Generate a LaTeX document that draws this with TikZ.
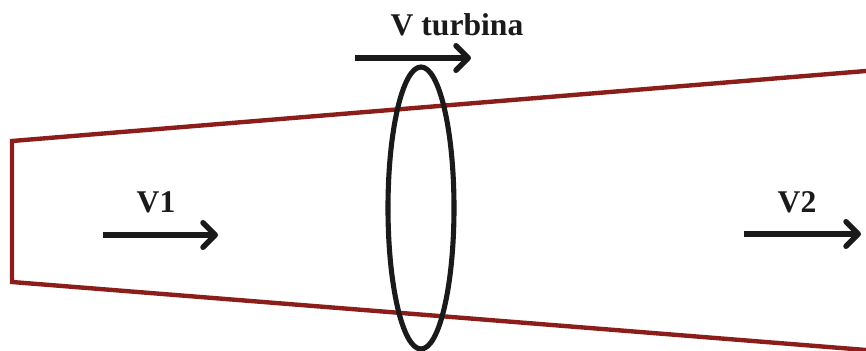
\documentclass[tikz,border=0pt]{standalone}
\usepackage{fontspec}
\setmainfont{Liberation Serif}
\usetikzlibrary{arrows.meta,positioning}
\definecolor{duct}{HTML}{8B1E1A}
\definecolor{ink}{HTML}{1A1A1A}

\begin{document}
\begin{tikzpicture}[x=0.02cm, y=-0.02cm, font=\fontsize{18}{20}\selectfont\bfseries,
  flow/.style={-{Straight Barb[length=7pt,width=14pt,line cap=round,line join=round]}, line width=3.1pt, ink},
  lbl/.style={inner sep=0pt, text=ink}]
  \useasboundingbox (0,0) rectangle (866,351);
  % duct outline
  \draw[duct, line width=2.5pt, line join=miter] (866,71) -- (12,141) -- (12,282) -- (866,350);
  % turbine disk
  \draw[ink, line width=2.9pt] (421,208) ellipse [x radius=33, y radius=141];
  % velocities
  \coordinate (t1) at (355,58);
  \coordinate (t2) at (471,58);
  \coordinate (a1) at (103,235);
  \coordinate (a2) at (218,235);
  \coordinate (b1) at (744,234);
  \coordinate (b2) at (861,234);
  \draw[flow] (t1) -- (t2);
  \draw[flow] (a1) -- (a2);
  \draw[flow] (b1) -- (b2);
  \node[lbl] (vt) at (457,25) {V turbina};
  \node[lbl] (v1) at (156,202) {V1};
  \node[lbl] (v2) at (797,202) {V2};
\end{tikzpicture}
\end{document}
